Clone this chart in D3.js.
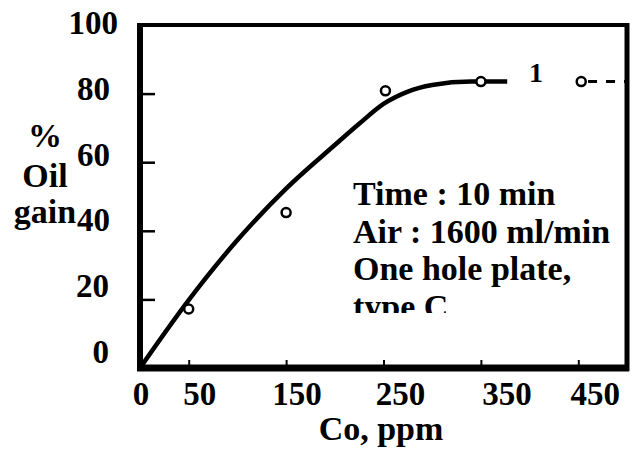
<!DOCTYPE html>
<html>
<head>
<meta charset="utf-8">
<script src="https://cdn.jsdelivr.net/npm/d3@7.9.0/dist/d3.min.js"></script>
<style>
  html, body { margin: 0; padding: 0; background: #fff; }
  svg { display: block; }
  text { font-family: "Liberation Serif", "Times New Roman", serif; font-weight: bold; fill: #000; }
</style>
</head>
<body>
<svg id="chart" width="632" height="450"></svg>
<script>
// data
const xTicks = [0, 50, 150, 250, 350, 450];
const yTicks = [0, 20, 40, 60, 80, 100];
const curvePpm = [0, 50, 100, 150, 200, 225, 250, 275, 300, 340, 377];
const curveGain = [0, 19.8, 37.3, 52.3, 65, 71.2, 77, 80.6, 82.5, 83.5, 83.5];
const pointPpm = [50, 150, 252, 350, 453];
const pointGain = [17.2, 45.3, 80.8, 83.5, 83.5];
const dashPpm = [460, 500];
const dashGain = [83.5, 83.5];
const noteLines = ['Time : 10 min', 'Air : 1600 ml/min', 'One hole plate,', 'type C'];
const yTitle = ['%', 'Oil', 'gain'];

const svg = d3.select('#chart');
const x = d3.scaleLinear().domain([0, 500]).range([140, 627]);
const y = d3.scaleLinear().domain([0, 100]).range([368, 25]);
// the printed labels drift a bit from their ticks in the scan
const yLab = d3.scaleLinear().domain([0, 100]).range([363, 34]);
const xNudge = [1, 11, 11, 17, 26, 17];
const yRight = [109, 109, 110, 110, 110, 118];

// ticks (inward)
svg.append('g')
  .attr('transform', `translate(${x(0)},0)`)
  .call(d3.axisLeft(y).tickValues(yTicks.slice(1, 5)).tickSize(-15).tickFormat(''))
  .call(g => g.select('.domain').remove())
  .call(g => g.selectAll('line').attr('stroke', '#000').attr('stroke-width', 2.5));

svg.append('g')
  .attr('transform', `translate(0,${y(0)})`)
  .call(d3.axisBottom(x).tickValues(xTicks.slice(1)).tickSize(-8).tickFormat(''))
  .call(g => g.select('.domain').remove())
  .call(g => g.selectAll('line').attr('stroke', '#000').attr('stroke-width', 2));

// frame
const frame = svg.append('g').attr('fill', 'none').attr('stroke', '#000');
frame.append('line').attr('x1', x(0)).attr('x2', x(500)).attr('y1', y(100)).attr('y2', y(100)).attr('stroke-width', 4);
frame.append('line').attr('x1', x(500)).attr('x2', x(500)).attr('y1', y(100) - 2).attr('y2', y(0) + 3).attr('stroke-width', 5);
frame.append('line').attr('x1', x(0)).attr('x2', x(0)).attr('y1', y(100) - 2).attr('y2', y(0) + 3).attr('stroke-width', 6);
frame.append('line').attr('x1', x(0) - 3).attr('x2', x(500) + 2).attr('y1', y(0)).attr('y2', y(0)).attr('stroke-width', 7);

// tick labels
svg.append('g').selectAll('text').data(xTicks).join('text')
  .attr('x', (d, i) => x(d) + xNudge[i])
  .attr('y', 405)
  .attr('text-anchor', 'middle')
  .attr('font-size', 33)
  .text(d => d);

svg.append('g').selectAll('text').data(yTicks).join('text')
  .attr('x', (d, i) => yRight[i])
  .attr('y', d => yLab(d))
  .attr('text-anchor', 'end')
  .attr('font-size', 33)
  .text(d => d);

// axis titles
svg.append('text').attr('x', 381).attr('y', 440).attr('text-anchor', 'middle')
  .attr('font-size', 34).text('Co, ppm');
svg.append('g').selectAll('text').data(yTitle).join('text')
  .attr('x', 45)
  .attr('y', (d, i) => [147, 187, 223][i])
  .attr('text-anchor', 'middle')
  .attr('font-size', 34)
  .text(d => d);

// fitted curve
const curve = curvePpm.map((p, i) => [p, curveGain[i]]);
svg.append('path')
  .datum(curve)
  .attr('fill', 'none')
  .attr('stroke', '#000')
  .attr('stroke-width', 4.5)
  .attr('d', d3.line().x(d => x(d[0])).y(d => y(d[1])).curve(d3.curveMonotoneX));

// dashed extension
svg.append('path')
  .datum(dashPpm.map((p, i) => [p, dashGain[i]]))
  .attr('fill', 'none')
  .attr('stroke', '#000')
  .attr('stroke-width', 3)
  .attr('stroke-dasharray', '9,9')
  .attr('d', d3.line().x(d => x(d[0])).y(d => y(d[1])));

// measured points
svg.append('g').selectAll('circle').data(pointPpm).join('circle')
  .attr('cx', d => x(d))
  .attr('cy', (d, i) => y(pointGain[i]))
  .attr('r', 4.5)
  .attr('fill', '#fff')
  .attr('stroke', '#000')
  .attr('stroke-width', 2.5);

// curve number
svg.append('text').attr('x', 536).attr('y', 82).attr('text-anchor', 'middle')
  .attr('font-size', 28).text('1');

// conditions note, cut off at the bottom like the scan
svg.append('clipPath').attr('id', 'noteClip')
  .append('rect').attr('x', 340).attr('y', 160).attr('width', 280).attr('height', 153);
svg.append('g').attr('clip-path', 'url(#noteClip)')
  .selectAll('text').data(noteLines).join('text')
  .attr('x', 353)
  .attr('y', (d, i) => 205 + i * 37.7)
  .attr('font-size', 34)
  .text(d => d);
</script>
</body>
</html>
